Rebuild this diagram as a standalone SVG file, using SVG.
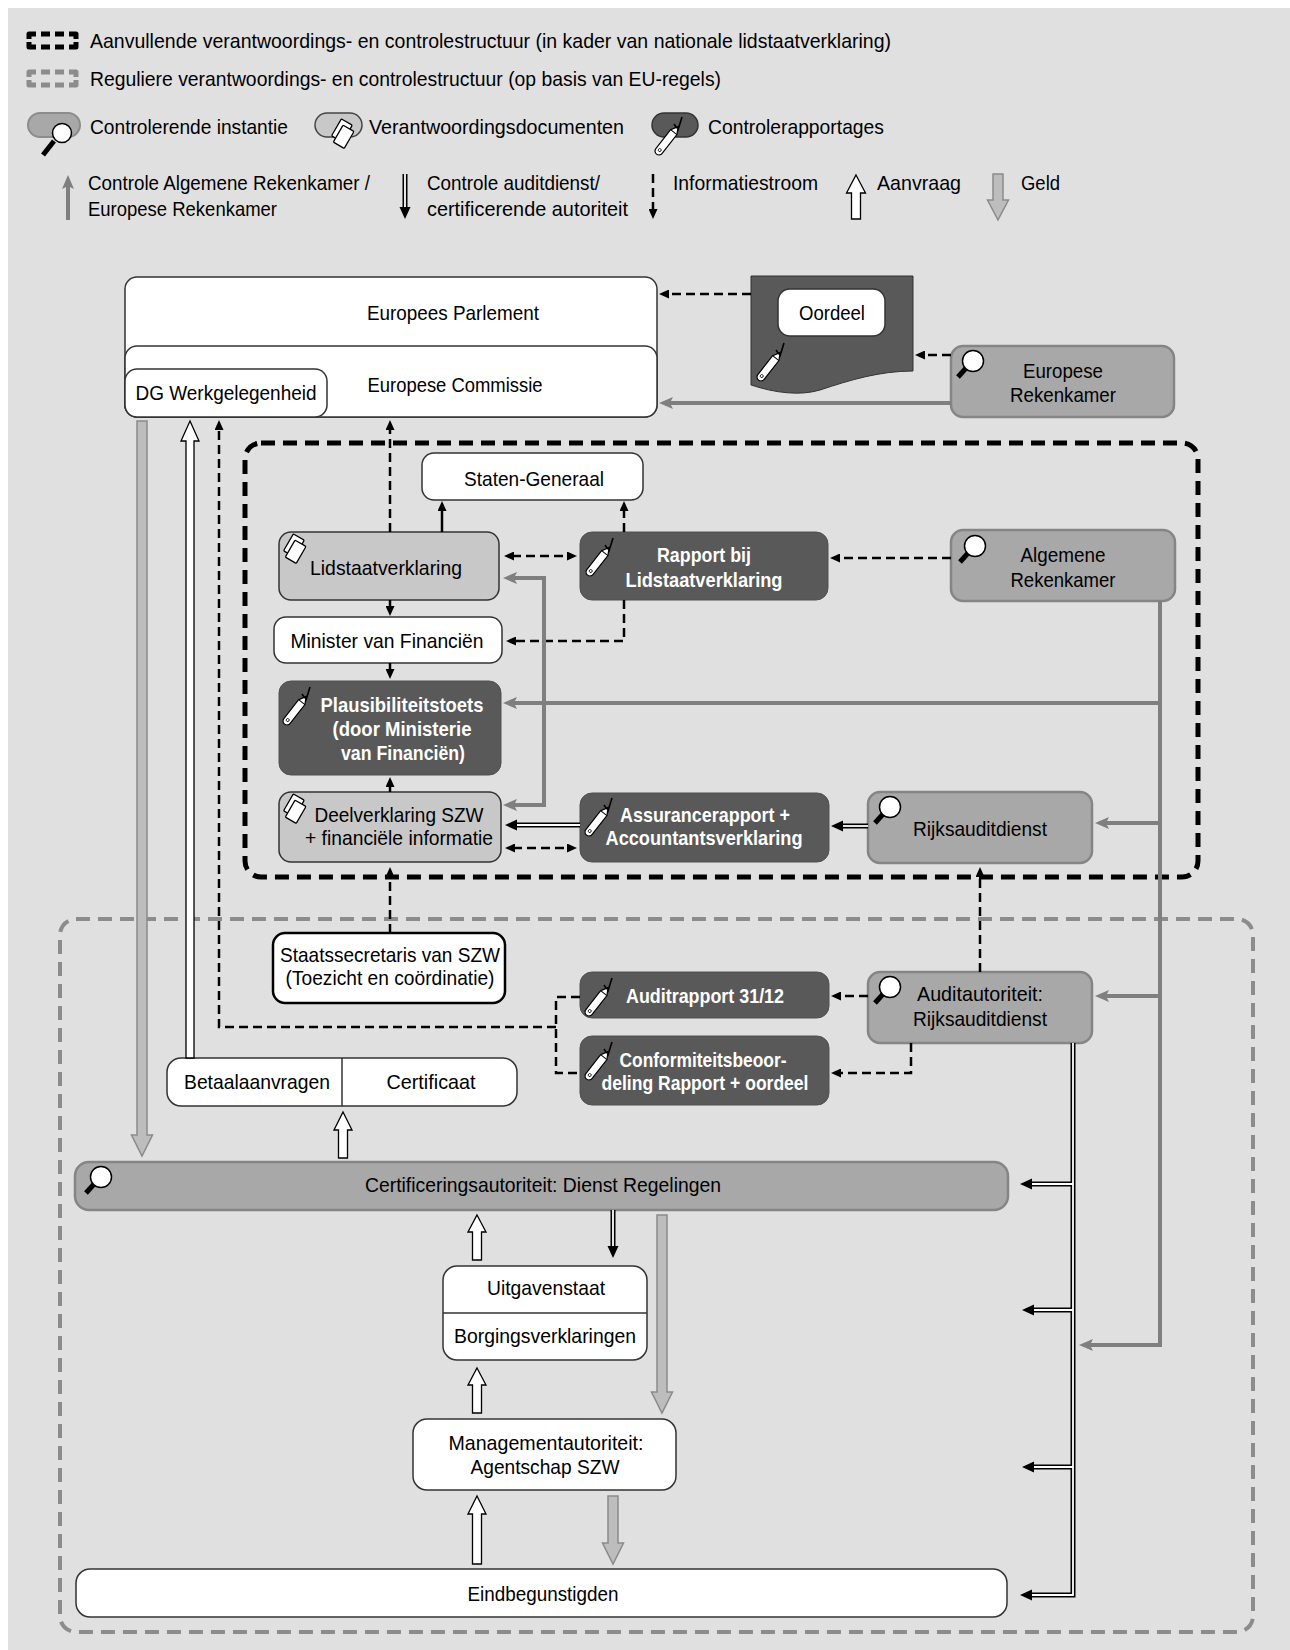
<svg xmlns="http://www.w3.org/2000/svg" width="1290" height="1650" viewBox="0 0 1290 1650">
<defs>
<style>
.t{font-family:"Liberation Sans",Arial,Helvetica,sans-serif;font-size:21px;fill:#000;text-anchor:middle}
.l{text-anchor:start}
.b{font-weight:bold;fill:#fff}
.wh{fill:#fff;stroke:#333;stroke-width:1.5}
.dc{fill:#c8c8c8;stroke:#333;stroke-width:1.5}
.ct{fill:#a8a8a8;stroke:#858585;stroke-width:2.5}
.dk{fill:#595959;stroke:#505050;stroke-width:1}
.da{fill:none;stroke:#000;stroke-width:2.5;stroke-dasharray:9 5}
.so{fill:none;stroke:#000;stroke-width:2.5}
.gr{fill:none;stroke:#7f7f7f;stroke-width:4}
.dbo{fill:none;stroke:#000;stroke-width:5}
.dbi{fill:none;stroke:#fff;stroke-width:1.8}
.hw{fill:#fff;stroke:#000;stroke-width:1.3}
.hg{fill:#bdbdbd;stroke:#8a8a8a;stroke-width:1.5}
</style>
<marker id="a" viewBox="0 0 10 9" refX="2" refY="4.5" markerWidth="10" markerHeight="9" markerUnits="userSpaceOnUse" orient="auto-start-reverse"><path d="M0,0 L10,4.5 L0,9 Z" fill="#000"/></marker>
<marker id="g" viewBox="0 0 14 12" refX="4" refY="6" markerWidth="14" markerHeight="12" markerUnits="userSpaceOnUse" orient="auto-start-reverse"><path d="M0,0 L14,6 L0,12 L3,6 Z" fill="#7f7f7f"/></marker>
<g id="mag"><line x1="-6" y1="6" x2="-15" y2="16" stroke="#000" stroke-width="5"/><circle r="10.5" fill="#fff" stroke="#000" stroke-width="1.5"/></g>
<g id="pen"><path d="M20,7 L24,13 L28,0" fill="none" stroke="#000" stroke-width="1.6"/><g transform="translate(5,34) rotate(-52)"><path d="M0,-4 H24 L31,0 L24,4 H0 A4,4 0 0 1 0,-4 Z" fill="#fff" stroke="#000" stroke-width="1.2"/><line x1="24" y1="-4" x2="24" y2="4" stroke="#000" stroke-width="1"/><path d="M28.5,-1.2 L31,0 L28.5,1.2 Z" fill="#000"/><circle cx="1.2" cy="0" r="1.5" fill="none" stroke="#000" stroke-width="0.8"/></g></g>
<g id="docs"><g transform="scale(1.15)"><rect x="-9" y="-11" width="11" height="17" rx="1" transform="rotate(30)" fill="#fff" stroke="#000" stroke-width="1.1"/><rect x="-5" y="-7" width="11" height="17" rx="1" transform="rotate(30)" fill="#fff" stroke="#000" stroke-width="1.1"/></g></g>
</defs>

<rect x="8" y="8" width="1282" height="1642" fill="#e0e0e0"/>

<g id="legend">
<path d="M29,39 V34 H36 M41,34 H50 M55,34 H64 M69,34 H76 V39 M29,42 V47 H36 M41,47 H50 M55,47 H64 M69,47 H76 V42" stroke="#000" stroke-width="5" fill="none" stroke-linejoin="round"/>
<text class="t l" x="90" y="48" textLength="801" lengthAdjust="spacingAndGlyphs">Aanvullende verantwoordings- en controlestructuur (in kader van nationale lidstaatverklaring)</text>
<path d="M29,77 V72 H36 M41,72 H50 M55,72 H64 M69,72 H76 V77 M29,80 V85 H36 M41,85 H50 M55,85 H64 M69,85 H76 V80" stroke="#8c8c8c" stroke-width="5" fill="none" stroke-linejoin="round"/>
<text class="t l" x="90" y="86" textLength="631" lengthAdjust="spacingAndGlyphs">Reguliere verantwoordings- en controlestructuur (op basis van EU-regels)</text>
<rect x="28" y="113" width="52" height="24" rx="12" fill="#a8a8a8" stroke="#8c8c8c" stroke-width="2"/>
<line x1="54" y1="141" x2="43" y2="155" stroke="#000" stroke-width="5"/>
<circle cx="62" cy="133" r="9.5" fill="#fff" stroke="#000" stroke-width="1.5"/>
<text class="t l" x="90" y="134" textLength="198" lengthAdjust="spacingAndGlyphs">Controlerende instantie</text>
<rect x="315" y="113" width="47" height="24" rx="12" fill="#c8c8c8" stroke="#444" stroke-width="1.5"/>
<use href="#docs" x="344" y="135"/>
<text class="t l" x="369" y="134" textLength="255" lengthAdjust="spacingAndGlyphs">Verantwoordingsdocumenten</text>
<rect x="652" y="113" width="46" height="24" rx="12" fill="#595959" stroke="#333" stroke-width="1.5"/>
<use href="#pen" x="654" y="117"/>
<text class="t l" x="708" y="134" textLength="176" lengthAdjust="spacingAndGlyphs">Controlerapportages</text>
<path d="M68,220 V185" class="gr" marker-end="url(#g)"/>
<text class="t l" x="88" y="190" textLength="282" lengthAdjust="spacingAndGlyphs">Controle Algemene Rekenkamer /</text>
<text class="t l" x="88" y="216" textLength="189" lengthAdjust="spacingAndGlyphs">Europese Rekenkamer</text>
<path d="M405,174 V207" class="dbo"/><path d="M405,174 V208" class="dbi"/>
<path d="M399.5,207 L410.5,207 L405,219 Z" fill="#000"/>
<text class="t l" x="427" y="190" textLength="173" lengthAdjust="spacingAndGlyphs">Controle auditdienst/</text>
<text class="t l" x="427" y="216" textLength="201" lengthAdjust="spacingAndGlyphs">certificerende autoriteit</text>
<path d="M653,174 V211" class="da" marker-end="url(#a)"/>
<text class="t l" x="673" y="190" textLength="145" lengthAdjust="spacingAndGlyphs">Informatiestroom</text>
<polygon class="hw" points="856,175 865.5,193 860.5,193 860.5,219 851.5,219 851.5,193 846.5,193"/>
<text class="t l" x="877" y="190" textLength="84" lengthAdjust="spacingAndGlyphs">Aanvraag</text>
<polygon class="hg" points="993,174 1003,174 1003,200 1008.5,200 998,220 987.5,200 993,200"/>
<text class="t l" x="1021" y="190" textLength="39" lengthAdjust="spacingAndGlyphs">Geld</text>
</g>

<g id="frames">
<rect x="245" y="443" width="953" height="434" rx="16" fill="none" stroke="#000" stroke-width="5" stroke-dasharray="14 8"/>
<rect x="60" y="919" width="1193" height="713" rx="16" fill="none" stroke="#8c8c8c" stroke-width="4" stroke-dasharray="14 8"/>
</g>

<g id="n-europees-parlement">
<rect class="wh" x="125" y="277" width="532" height="140" rx="12"/>
<text class="t" x="453" y="320" textLength="172" lengthAdjust="spacingAndGlyphs">Europees Parlement</text>
</g>
<g id="n-europese-commissie">
<rect class="wh" x="125" y="346" width="532" height="71" rx="12"/>
<text class="t" x="455" y="392" textLength="175" lengthAdjust="spacingAndGlyphs">Europese Commissie</text>
</g>
<g id="n-dg-werkgelegenheid">
<rect class="wh" x="125" y="369" width="202" height="48" rx="12"/>
<text class="t" x="226" y="400" textLength="181" lengthAdjust="spacingAndGlyphs">DG Werkgelegenheid</text>
</g>
<g id="n-oordeel">
<path d="M751,276 H913 V371 C880,371 850,380 820,390 C800,396 775,393 751,385 Z" fill="#595959" stroke="#333" stroke-width="1"/>
<rect class="wh" x="778" y="289" width="107" height="47" rx="12"/>
<text class="t" x="832" y="320" textLength="66" lengthAdjust="spacingAndGlyphs">Oordeel</text>
<use href="#pen" x="756" y="343"/>
</g>
<g id="n-europese-rekenkamer">
<rect class="ct" x="951" y="346" width="223" height="71" rx="12"/>
<use href="#mag" x="973" y="361"/>
<text class="t" x="1063" y="378" textLength="80" lengthAdjust="spacingAndGlyphs">Europese</text>
<text class="t" x="1063" y="402" textLength="106" lengthAdjust="spacingAndGlyphs">Rekenkamer</text>
</g>
<g id="n-staten-generaal">
<rect class="wh" x="422" y="453" width="221" height="47" rx="12"/>
<text class="t" x="534" y="486" textLength="140" lengthAdjust="spacingAndGlyphs">Staten-Generaal</text>
</g>
<g id="n-lidstaatverklaring">
<rect class="dc" x="279" y="532" width="220" height="68" rx="12"/>
<use href="#docs" x="296" y="550"/>
<text class="t" x="386" y="575" textLength="152" lengthAdjust="spacingAndGlyphs">Lidstaatverklaring</text>
</g>
<g id="n-rapport">
<rect class="dk" x="580" y="532" width="248" height="68" rx="12"/>
<use href="#pen" x="585" y="538"/>
<text class="t b" x="704" y="562" textLength="94" lengthAdjust="spacingAndGlyphs">Rapport bij</text>
<text class="t b" x="704" y="587" textLength="157" lengthAdjust="spacingAndGlyphs">Lidstaatverklaring</text>
</g>
<g id="n-algemene-rekenkamer">
<rect class="ct" x="951" y="530" width="224" height="71" rx="12"/>
<use href="#mag" x="975" y="546"/>
<text class="t" x="1063" y="562" textLength="85" lengthAdjust="spacingAndGlyphs">Algemene</text>
<text class="t" x="1063" y="587" textLength="105" lengthAdjust="spacingAndGlyphs">Rekenkamer</text>
</g>
<g id="n-minister">
<rect class="wh" x="274" y="617" width="228" height="46" rx="12"/>
<text class="t" x="387" y="648" textLength="193" lengthAdjust="spacingAndGlyphs">Minister van Financiën</text>
</g>
<g id="n-plausibiliteitstoets">
<rect class="dk" x="279" y="681" width="222" height="94" rx="12"/>
<use href="#pen" x="282" y="687"/>
<text class="t b" x="402" y="712" textLength="163" lengthAdjust="spacingAndGlyphs">Plausibiliteitstoets</text>
<text class="t b" x="402" y="736" textLength="139" lengthAdjust="spacingAndGlyphs">(door Ministerie</text>
<text class="t b" x="403" y="760" textLength="124" lengthAdjust="spacingAndGlyphs">van Financiën)</text>
</g>
<g id="n-deelverklaring">
<rect class="dc" x="279" y="792" width="222" height="70" rx="12"/>
<use href="#docs" x="296" y="810"/>
<text class="t" x="399" y="822" textLength="169" lengthAdjust="spacingAndGlyphs">Deelverklaring SZW</text>
<text class="t" x="399" y="845" textLength="188" lengthAdjust="spacingAndGlyphs">+ financiële informatie</text>
</g>
<g id="n-assurancerapport">
<rect class="dk" x="580" y="793" width="249" height="69" rx="12"/>
<use href="#pen" x="584" y="798"/>
<text class="t b" x="705" y="822" textLength="170" lengthAdjust="spacingAndGlyphs">Assurancerapport +</text>
<text class="t b" x="704" y="845" textLength="197" lengthAdjust="spacingAndGlyphs">Accountantsverklaring</text>
</g>
<g id="n-rijksauditdienst">
<rect class="ct" x="868" y="792" width="224" height="71" rx="12"/>
<use href="#mag" x="890" y="807"/>
<text class="t" x="980" y="836" textLength="134" lengthAdjust="spacingAndGlyphs">Rijksauditdienst</text>
</g>
<g id="n-staatssecretaris">
<rect x="273" y="933" width="232" height="70" rx="12" fill="#fff" stroke="#000" stroke-width="2.5"/>
<text class="t" x="390" y="962" textLength="220" lengthAdjust="spacingAndGlyphs">Staatssecretaris van SZW</text>
<text class="t" x="390" y="985" textLength="209" lengthAdjust="spacingAndGlyphs">(Toezicht en coördinatie)</text>
</g>
<g id="n-auditrapport">
<rect class="dk" x="580" y="972" width="249" height="46" rx="12"/>
<use href="#pen" x="584" y="978"/>
<text class="t b" x="705" y="1003" textLength="158" lengthAdjust="spacingAndGlyphs">Auditrapport 31/12</text>
</g>
<g id="n-auditautoriteit">
<rect class="ct" x="868" y="972" width="224" height="71" rx="12"/>
<use href="#mag" x="890" y="987"/>
<text class="t" x="980" y="1001" textLength="126" lengthAdjust="spacingAndGlyphs">Auditautoriteit:</text>
<text class="t" x="980" y="1026" textLength="134" lengthAdjust="spacingAndGlyphs">Rijksauditdienst</text>
</g>
<g id="n-conformiteit">
<rect class="dk" x="580" y="1036" width="249" height="69" rx="12"/>
<use href="#pen" x="584" y="1042"/>
<text class="t b" x="703" y="1067" textLength="167" lengthAdjust="spacingAndGlyphs">Conformiteitsbeoor-</text>
<text class="t b" x="705" y="1090" textLength="207" lengthAdjust="spacingAndGlyphs">deling Rapport + oordeel</text>
</g>
<g id="n-betaal-certificaat">
<rect class="wh" x="167" y="1058" width="350" height="48" rx="14"/>
<line x1="342" y1="1058" x2="342" y2="1106" stroke="#333" stroke-width="1.5"/>
<text class="t" x="257" y="1089" textLength="146" lengthAdjust="spacingAndGlyphs">Betaalaanvragen</text>
<text class="t" x="431" y="1089" textLength="89" lengthAdjust="spacingAndGlyphs">Certificaat</text>
</g>
<g id="n-certificeringsautoriteit">
<rect class="ct" x="75" y="1162" width="933" height="48" rx="14"/>
<use href="#mag" x="101" y="1177"/>
<text class="t" x="543" y="1192" textLength="356" lengthAdjust="spacingAndGlyphs">Certificeringsautoriteit: Dienst Regelingen</text>
</g>
<g id="n-uitgavenstaat">
<rect class="wh" x="443" y="1266" width="204" height="94" rx="14"/>
<line x1="443" y1="1313" x2="647" y2="1313" stroke="#333" stroke-width="1.5"/>
<text class="t" x="546" y="1295" textLength="118" lengthAdjust="spacingAndGlyphs">Uitgavenstaat</text>
<text class="t" x="545" y="1343" textLength="182" lengthAdjust="spacingAndGlyphs">Borgingsverklaringen</text>
</g>
<g id="n-managementautoriteit">
<rect class="wh" x="413" y="1419" width="263" height="71" rx="14"/>
<text class="t" x="546" y="1450" textLength="195" lengthAdjust="spacingAndGlyphs">Managementautoriteit:</text>
<text class="t" x="545" y="1474" textLength="149" lengthAdjust="spacingAndGlyphs">Agentschap SZW</text>
</g>
<g id="n-eindbegunstigden">
<rect class="wh" x="76" y="1569" width="931" height="48" rx="14"/>
<text class="t" x="543" y="1601" textLength="151" lengthAdjust="spacingAndGlyphs">Eindbegunstigden</text>
</g>

<g id="connectors">
<path class="da" d="M751,294 H667" marker-end="url(#a)"/>
<path class="da" d="M951,355 H923" marker-end="url(#a)"/>
<path class="gr" d="M951,403 H669" marker-end="url(#g)"/>
<path class="da" d="M390,532 V428" marker-end="url(#a)"/>
<path class="so" d="M442,532 V509" marker-end="url(#a)"/>
<path class="da" d="M624,532 V509" marker-end="url(#a)"/>
<path class="da" d="M512,556 H569" marker-start="url(#a)" marker-end="url(#a)"/>
<path class="da" d="M624,600 V641 H514" marker-end="url(#a)"/>
<path class="da" d="M951,558 H838" marker-end="url(#a)"/>
<path class="so" d="M390,600 V608" marker-end="url(#a)"/>
<path class="so" d="M390,663 V671" marker-end="url(#a)"/>
<path class="so" d="M390,792 V785" marker-end="url(#a)"/>
<path class="gr" d="M1160,601 V1345 H1089" marker-end="url(#g)"/>
<path class="gr" d="M1160,703 H513" marker-end="url(#g)"/>
<path class="gr" d="M1160,823 H1105" marker-end="url(#g)"/>
<path class="gr" d="M1160,996 H1105" marker-end="url(#g)"/>
<path class="gr" d="M513,578 H544 V805 H513" marker-start="url(#g)" marker-end="url(#g)"/>
<path class="da" d="M513,848 H569" marker-start="url(#a)" marker-end="url(#a)"/>
<path class="dbo" d="M868,826 H842"/><path class="dbi" d="M868,826 H841"/>
<path d="M831,826 L843,820.5 L843,831.5 Z" fill="#000"/>
<path class="dbo" d="M580,825 H516"/><path class="dbi" d="M580,825 H515"/>
<path d="M505,825 L517,819.5 L517,830.5 Z" fill="#000"/>
<path class="da" d="M390,933 V875" marker-end="url(#a)"/>
<path class="da" d="M980,972 V875" marker-end="url(#a)"/>
<path class="da" d="M868,996 H839" marker-end="url(#a)"/>
<path class="da" d="M911,1043 V1073 H839" marker-end="url(#a)"/>
<path class="da" d="M580,997 H556 V1073 H580"/>
<path class="da" d="M556,1027 H219 V428" marker-end="url(#a)"/>
<polygon class="hw" points="190,421 199,441 194,441 194,1058 186,1058 186,441 181,441"/>
<polygon class="hg" points="137,421 147,421 147,1135 152.5,1135 142,1156 131.5,1135 137,1135"/>
<polygon class="hw" points="343,1112 352,1130 347.5,1130 347.5,1158 338.5,1158 338.5,1130 334,1130"/>
<polygon class="hw" points="477,1215 486,1232 481.5,1232 481.5,1260 472.5,1260 472.5,1232 468,1232"/>
<path class="dbo" d="M613,1210 V1247"/><path class="dbi" d="M613,1210 V1248"/>
<path d="M607.5,1246 L618.5,1246 L613,1258 Z" fill="#000"/>
<polygon class="hg" points="657,1215 667,1215 667,1392 672.5,1392 662,1413 651.5,1392 657,1392"/>
<polygon class="hw" points="477,1368 486,1385 481.5,1385 481.5,1413 472.5,1413 472.5,1385 468,1385"/>
<polygon class="hw" points="477,1496 486,1514 481.5,1514 481.5,1564 472.5,1564 472.5,1514 468,1514"/>
<polygon class="hg" points="608,1496 618,1496 618,1543 623.5,1543 613,1564 602.5,1543 608,1543"/>
<path class="dbo" d="M1073,1043 V1595 H1031 M1073,1184 H1031 M1073,1310 H1033 M1073,1467 H1033"/>
<path class="dbi" d="M1073,1043 V1595 H1030 M1073,1184 H1030 M1073,1310 H1032 M1073,1467 H1032"/>
<path d="M1020,1184 L1032,1178.5 L1032,1189.5 Z M1022,1310 L1034,1304.5 L1034,1315.5 Z M1022,1467 L1034,1461.5 L1034,1472.5 Z M1020,1595 L1032,1589.5 L1032,1600.5 Z" fill="#000"/>
</g>
</svg>
